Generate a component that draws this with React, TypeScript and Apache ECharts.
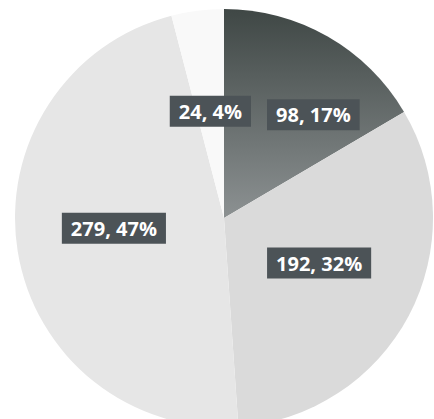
import React, { useEffect, useRef } from "react";
import * as echarts from "echarts";

const categories = ["A", "B", "C", "D"];
const values = [98, 192, 279, 24];
const sliceColors = ["#5f6566", "#dadada", "#e6e6e6", "#f9f9f9"];
const labelOffsets: [number, number][] = [[36, -10], [0, -5], [-4, -7], [0, 0]];

export default function App() {
  const ref = useRef<HTMLDivElement>(null);
  useEffect(() => {
    if (!ref.current) return;
    const chart = echarts.init(ref.current, null, { renderer: "svg" });
    const data = categories.map((name, i) => ({
      name,
      value: values[i],
      itemStyle: {
        color:
          i === 0
            ? new echarts.graphic.LinearGradient(0, 0, 0, 1, [
                { offset: 0, color: "#3f4745" },
                { offset: 1, color: "#8c9192" },
              ])
            : sliceColors[i],
      },
      label: { offset: labelOffsets[i] },
    }));
    chart.setOption({
      animation: false,
      backgroundColor: "#ffffff",
      series: [
        {
          type: "pie",
          center: [224, 218],
          radius: [0, 209],
          startAngle: 90,
          clockwise: true,
          percentPrecision: 0,
          itemStyle: { borderWidth: 0 },
          label: {
            show: true,
            position: "inside",
            formatter: "{c}, {d}%",
            color: "#ffffff",
            fontFamily: "Open Sans",
            fontWeight: "bold",
            fontSize: 20,
            backgroundColor: "#4c5357",
            padding: [6, 9, 5, 9],
          },
          labelLine: { show: false },
          emphasis: { disabled: true },
          data,
        },
      ],
    });
    return () => chart.dispose();
  }, []);
  return (
    <div
      ref={ref}
      style={{ position: "fixed", left: 0, top: 0, width: 434, height: 419 }}
    />
  );
}
